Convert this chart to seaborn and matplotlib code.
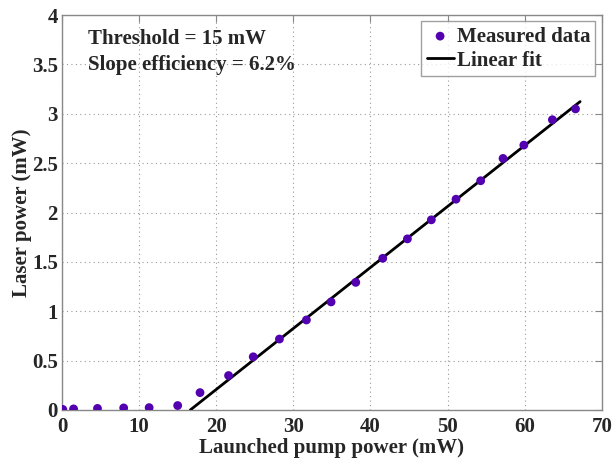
import numpy as np
import pandas as pd
import matplotlib
matplotlib.use("Agg")
import matplotlib.pyplot as plt
import seaborn as sns
from matplotlib.ticker import FuncFormatter

# measured points
pump_power = [0.1, 1.5, 4.6, 8.0, 11.3, 15.0, 17.9, 21.6, 24.8, 28.2, 31.7, 34.9,
              38.1, 41.6, 44.8, 47.9, 51.1, 54.3, 57.2, 59.9, 63.6, 66.6]
laser_power = [0.005, 0.01, 0.015, 0.02, 0.023, 0.044, 0.175, 0.348, 0.538, 0.718, 0.911, 1.094,
               1.292, 1.536, 1.733, 1.926, 2.135, 2.322, 2.548, 2.683, 2.94, 3.05]

# linear fit end points
fit_x = [16.65, 67.2]
fit_y = [0.0, 3.124]

df = pd.DataFrame({'pump': pump_power, 'laser': laser_power})
fit = pd.DataFrame({'pump': fit_x, 'laser': fit_y})

sns.set_style("white")
plt.rcParams['font.family'] = ['Liberation Serif', 'DejaVu Serif']
plt.rcParams['font.weight'] = 'bold'
plt.rcParams['axes.labelweight'] = 'bold'

fig = plt.figure(figsize=(6.14, 4.59), dpi=100)
ax = fig.add_axes([0.101, 0.107, 0.879, 0.860])

sns.lineplot(x='pump', y='laser', data=fit, color='black', linewidth=2, ax=ax,
             label='Linear fit', zorder=3)
sns.scatterplot(x='pump', y='laser', data=df, color='#5200b0', s=40, edgecolor='none',
                ax=ax, label='Measured data', zorder=4)

ax.set_xlim(0, 70)
ax.set_ylim(0, 4)
ax.set_xticks(np.arange(0, 71, 10))
ax.set_yticks(np.arange(0, 4.01, 0.5))
ax.yaxis.set_major_formatter(FuncFormatter(lambda v, p: f'{v:g}'))
ax.grid(True, linestyle=(0, (1, 3)), color='#999999', linewidth=0.8)
ax.tick_params(direction='in', length=5, top=True, right=True, labelsize=15,
               color='#888888')
ax.tick_params(axis='x', pad=5)
ax.tick_params(axis='y', pad=3)
for s in ax.spines.values():
    s.set_color('#888888')
    s.set_linewidth(1)

ax.set_xlabel('Launched pump power (mW)', fontsize=15, labelpad=1)
ax.set_ylabel('Laser power (mW)', fontsize=15, labelpad=0)

ax.text(0.048, 0.965, 'Threshold = 15 mW\nSlope efficiency = 6.2%', transform=ax.transAxes,
        fontsize=15, va='top', ha='left', linespacing=1.4)

h, l = ax.get_legend_handles_labels()
leg = ax.legend(h[::-1], l[::-1], loc='upper right', fontsize=15, frameon=True, fancybox=False,
                edgecolor='#888888', borderpad=0.25, handlelength=1.3, handletextpad=0.15,
                labelspacing=0.2, borderaxespad=0.3)
leg.get_frame().set_linewidth(1)

fig.savefig('out.png', dpi=100)
